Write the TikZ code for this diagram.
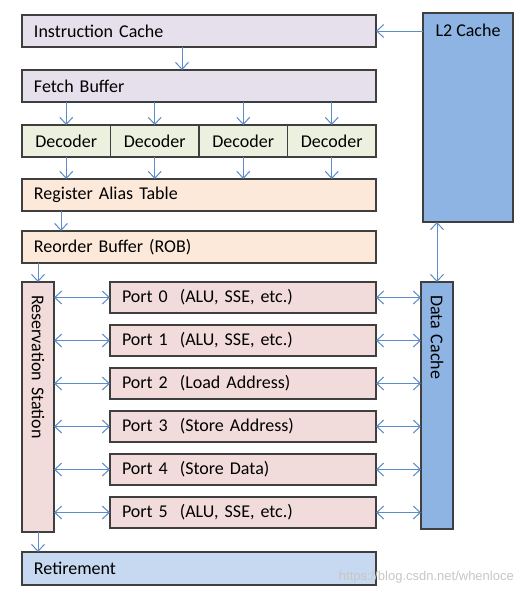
\documentclass[tikz,border=0pt]{standalone}
\usepackage{fontspec}
\setmainfont{Carlito}
\newfontfamily\markfont{Liberation Sans}
\usetikzlibrary{positioning, arrows.meta}

\definecolor{lavender}{HTML}{E5E0EC}
\definecolor{paleGreen}{HTML}{EBF1DE}
\definecolor{peach}{HTML}{FDE9D9}
\definecolor{rose}{HTML}{F2DCDB}
\definecolor{cacheBlue}{HTML}{8EB4E3}
\definecolor{retireBlue}{HTML}{C6D9F1}
\definecolor{wireBlue}{HTML}{5B8BC9}
\definecolor{edgeGray}{HTML}{3F3F3F}

\begin{document}
\begin{tikzpicture}[
    x=1pt, y=-1pt,
    >={Straight Barb[length=7pt, width=13pt, line width=1pt]},
    font=\fontsize{18}{21}\selectfont,
    % Node Styles
    unit/.style={rectangle, draw=edgeGray, line width=1.2pt, outer sep=0pt, inner sep=0pt, minimum height=32pt},
    wide/.style={unit, anchor=north west, text width=330pt, align=left, inner xsep=12pt},
    decoder/.style={unit, fill=paleGreen, minimum width=88.5pt},
    port/.style={unit, fill=rose, anchor=north west, minimum height=31pt, text width=242pt, align=left, inner xsep=12pt},
    column/.style={unit, rotate=-90, align=left, inner xsep=13pt},
    link/.style={draw=wireBlue, line width=1pt, ->},
    twoway/.style={link, <->}
]
\useasboundingbox (0,0) rectangle (525,595);

% --- 1. Front end ---
\node[wide, fill=lavender] (icache) at (22,15) {Instruction Cache};
\node[wide, fill=lavender, below=23pt of icache] (fetch) {Fetch Buffer};

% --- 2. Decoders (side by side) ---
\node[decoder, below=23pt of fetch.south west, anchor=north west] (dec1) {Decoder};
\node[decoder, right=0pt of dec1] (dec2) {Decoder};
\node[decoder, right=0pt of dec2] (dec3) {Decoder};
\node[decoder, right=0pt of dec3] (dec4) {Decoder};

% --- 3. Rename / reorder ---
\node[wide, fill=peach, below=22pt of dec1.south west, anchor=north west] (rat) {Register Alias Table};
\node[wide, fill=peach, below=20pt of rat] (rob) {Reorder Buffer (ROB)};

% --- 4. Execution ports ---
\node[column, fill=rose, text width=224pt] (rs) at (38,407) {Reservation Station};
\node[port] (p0) at (110,282) {Port 0~~(ALU, SSE, etc.)};
\node[port, below=12pt of p0] (p1) {Port 1~~(ALU, SSE, etc.)};
\node[port, below=12pt of p1] (p2) {Port 2~~(Load Address)};
\node[port, below=12pt of p2] (p3) {Port 3~~(Store Address)};
\node[port, below=12pt of p3] (p4) {Port 4~~(Store Data)};
\node[port, below=12pt of p4] (p5) {Port 5~~(ALU, SSE, etc.)};

\node[wide, fill=retireBlue, minimum height=33pt] (retire) at (22,552) {Retirement};

% --- 5. Caches ---
\node[unit, fill=cacheBlue, anchor=north west, minimum width=90pt, text height=12pt, text depth=175pt, inner ysep=11pt] (l2) at (423,13) {L2 Cache};
\node[column, fill=cacheBlue, text width=221pt] (dcache) at (437,405.5) {Data Cache};

% --- Edges ---
\draw[link] (l2.west |- icache) -- (icache.east);
\draw[link] ([xshift=-17pt]icache.south) -- ([xshift=-17pt]fetch.north);
\foreach \d in {dec1, dec2, dec3, dec4} {
    \draw[link] (fetch.south -| \d) -- (\d.north);
    \draw[link] (\d.south) -- (rat.north -| \d);
}
\draw[link] ([xshift=39pt]rat.south west) -- ([xshift=39pt]rob.north west);
\draw[link] (rob.south -| rs) -- (rs);
\draw[link] (rs) -- (retire.north -| rs);

% ports <-> reservation station / data cache (rs.north, dcache.south: sides after rotation)
\foreach \p in {p0, p1, p2, p3, p4, p5} {
    \draw[twoway] (\p -| rs.north) -- (\p.west);
    \draw[twoway] (\p.east) -- (\p -| dcache.south);
}
\draw[twoway] (l2.south -| dcache) -- (dcache);

% watermark
\node[font=\markfont\fontsize{13}{15}\selectfont, text=gray!45, anchor=east, inner sep=0pt] (mark) at (514,577) {https://blog.csdn.net/whenloce};

\end{tikzpicture}
\end{document}
